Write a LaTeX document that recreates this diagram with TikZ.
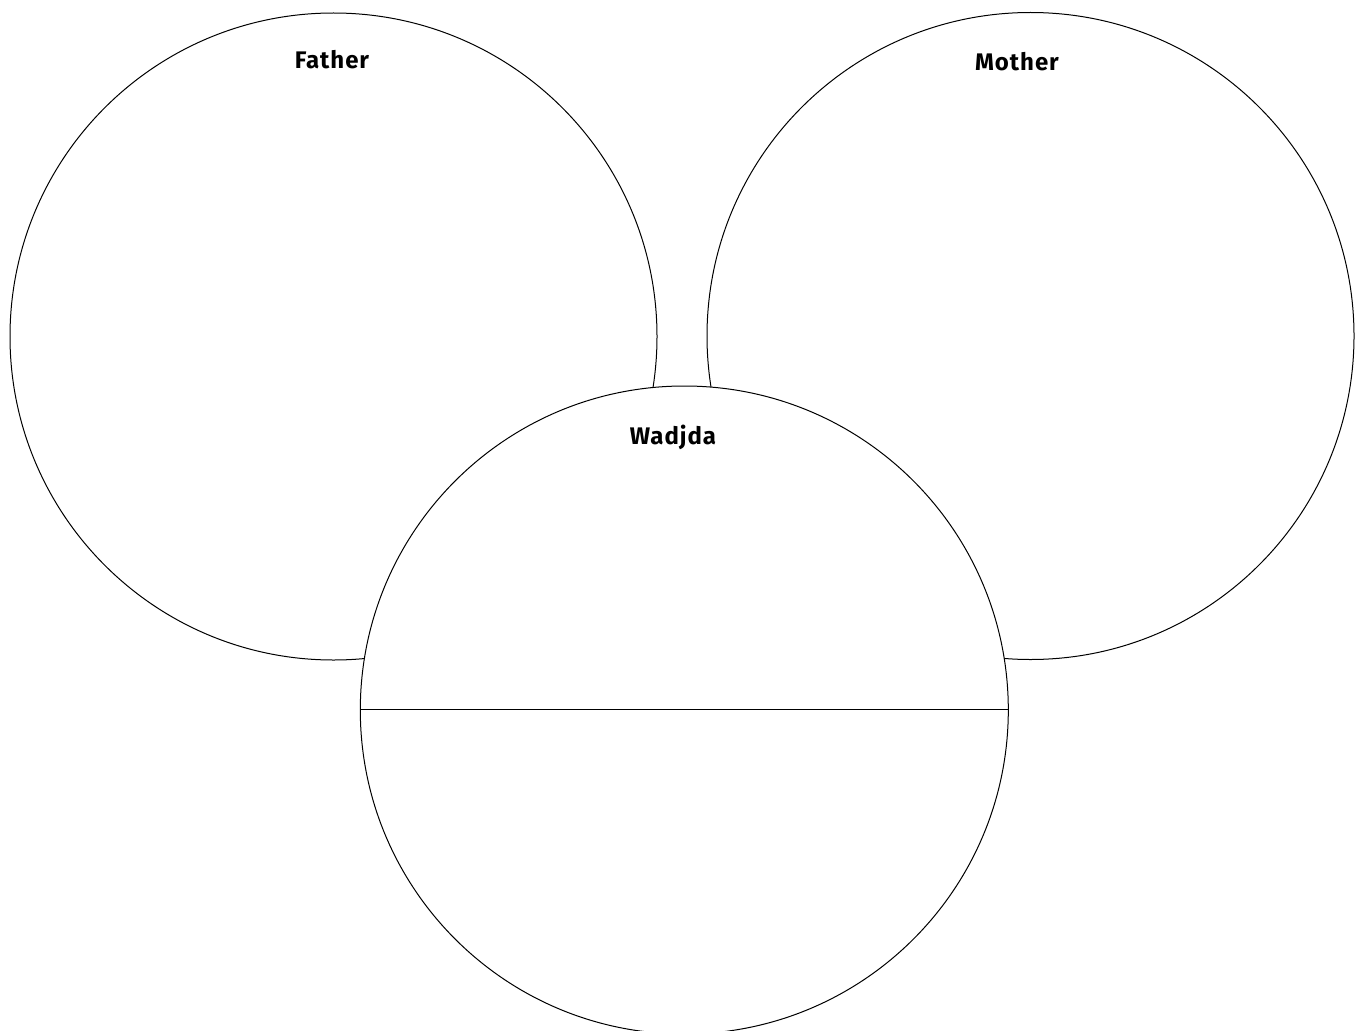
\documentclass[tikz,border=0pt]{standalone}
\usepackage{fontspec}
\setmainfont{Fira Sans}[LetterSpace=4]
\begin{document}
\begin{tikzpicture}[x=1pt,y=-1pt,
  ring/.style={draw=black,line width=1pt,fill=white},
  lbl/.style={anchor=base,font=\fontsize{24}{28}\selectfont\bfseries}]
\useasboundingbox (0,0) rectangle (1356,1030);
\clip (0,0) rectangle (1356,1030);
\path[ring] (333.5,336.5) circle[radius=323.5];
\path[ring] (1030.5,336) circle[radius=323.5];
\path[ring] (684.3,710) circle[radius=324];
\coordinate (wl) at (360.3,709.5);
\coordinate (wr) at (1008.3,709.5);
\draw[line width=1pt] (wl) -- (wr);
\node[lbl] (father) at (332,69) {Father};
\node[lbl] (mother) at (1017,71) {Mother};
\node[lbl] (wadjda) at (673,444) {Wadjda};
\end{tikzpicture}
\end{document}
